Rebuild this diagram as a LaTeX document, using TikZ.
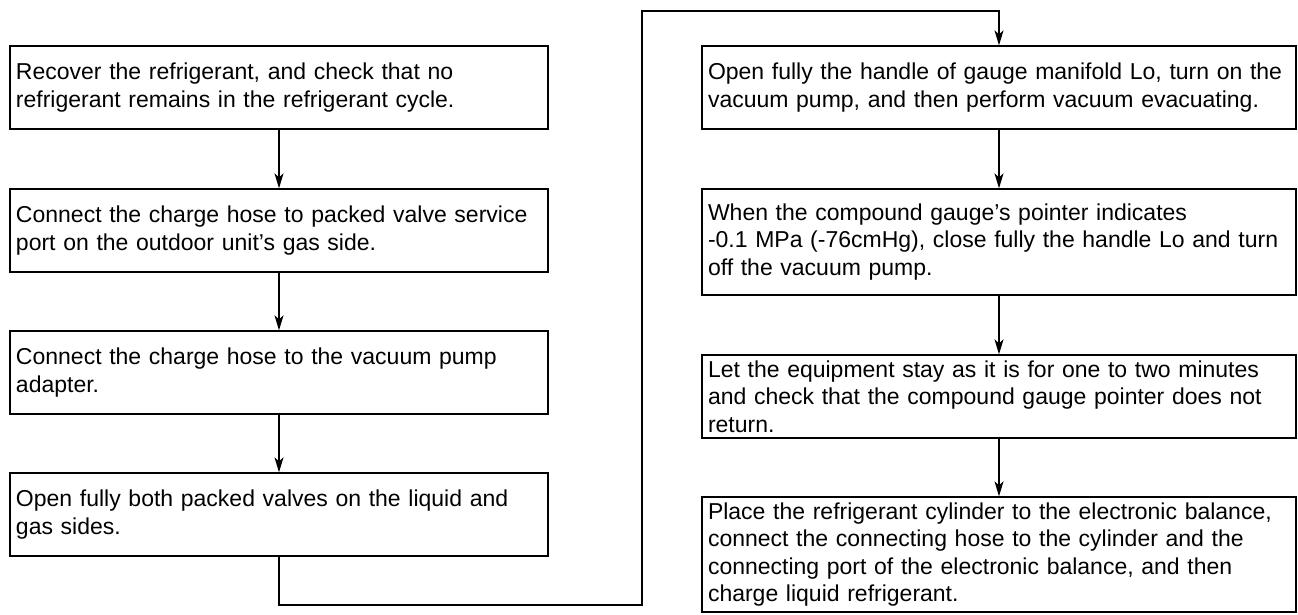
\documentclass[tikz,border=0pt]{standalone}
\usepackage{fontspec}
\setmainfont{Liberation Sans}
\usetikzlibrary{arrows.meta}
\begin{document}
\begin{tikzpicture}[x=1pt, y=-1pt, >={Stealth[length=15pt, width=9pt, inset=4pt]}, line width=1.3pt,
task/.style={draw, align=left, inner xsep=6pt, font=\fontsize{23}{27.5}\selectfont},
taskL/.style={task, text width=526pt, minimum width=538pt},
flow/.style={->, line width=1.3pt},
]
\useasboundingbox (0,0) rectangle (1298,615);
%%%%%%%% LEFT COLUMN %%%%%%%%
\node[taskL, minimum height=83pt] (recover) at (279,87.5) {Recover the refrigerant, and check that no\\refrigerant remains in the refrigerant cycle.};
\node[taskL, minimum height=83pt] (hoseport) at (279,230.5) {Connect the charge hose to packed valve service\\port on the outdoor unit's gas side.};
\node[taskL, minimum height=83pt] (hosepump) at (279,372.5) {Connect the charge hose to the vacuum pump\\adapter.};
\node[taskL, minimum height=83pt] (openvalves) at (279,514.5) {Open fully both packed valves on the liquid and\\gas sides.};
%%%%%%%% RIGHT COLUMN %%%%%%%%
\tikzset{taskR/.style={task, text width=582pt, minimum width=594pt}}
\node[taskR, minimum height=83pt] (evacuate) at (999,87.5) {Open fully the handle of gauge manifold Lo, turn on the\\vacuum pump, and then perform vacuum evacuating.};
\node[taskR, minimum height=106pt] (gauge) at (999,242) {When the compound gauge's pointer indicates\\-0.1 MPa (-76cmHg), close fully the handle Lo and turn\\off the vacuum pump.};
\node[taskR, minimum height=83pt] (wait) at (999,396.5) {Let the equipment stay as it is for one to two minutes\\and check that the compound gauge pointer does not\\return.};
\node[taskR, minimum height=115pt] (charge) at (999,554.5) {Place the refrigerant cylinder to the electronic balance,\\connect the connecting hose to the cylinder and the\\connecting port of the electronic balance, and then\\charge liquid refrigerant.};
%%%%%%%% CONNECTORS %%%%%%%%
\coordinate (low) at (642,605);
\coordinate (high) at (642,11);
\draw[flow] (recover) -- (hoseport);
\draw[flow] (hoseport) -- (hosepump);
\draw[flow] (hosepump) -- (openvalves);
\draw[flow] (openvalves.south) |- (low) -- (high) -| (evacuate.north);
\draw[flow] (evacuate) -- (gauge);
\draw[flow] (gauge) -- (wait);
\draw[flow] (wait) -- (charge);
\end{tikzpicture}
\end{document}
